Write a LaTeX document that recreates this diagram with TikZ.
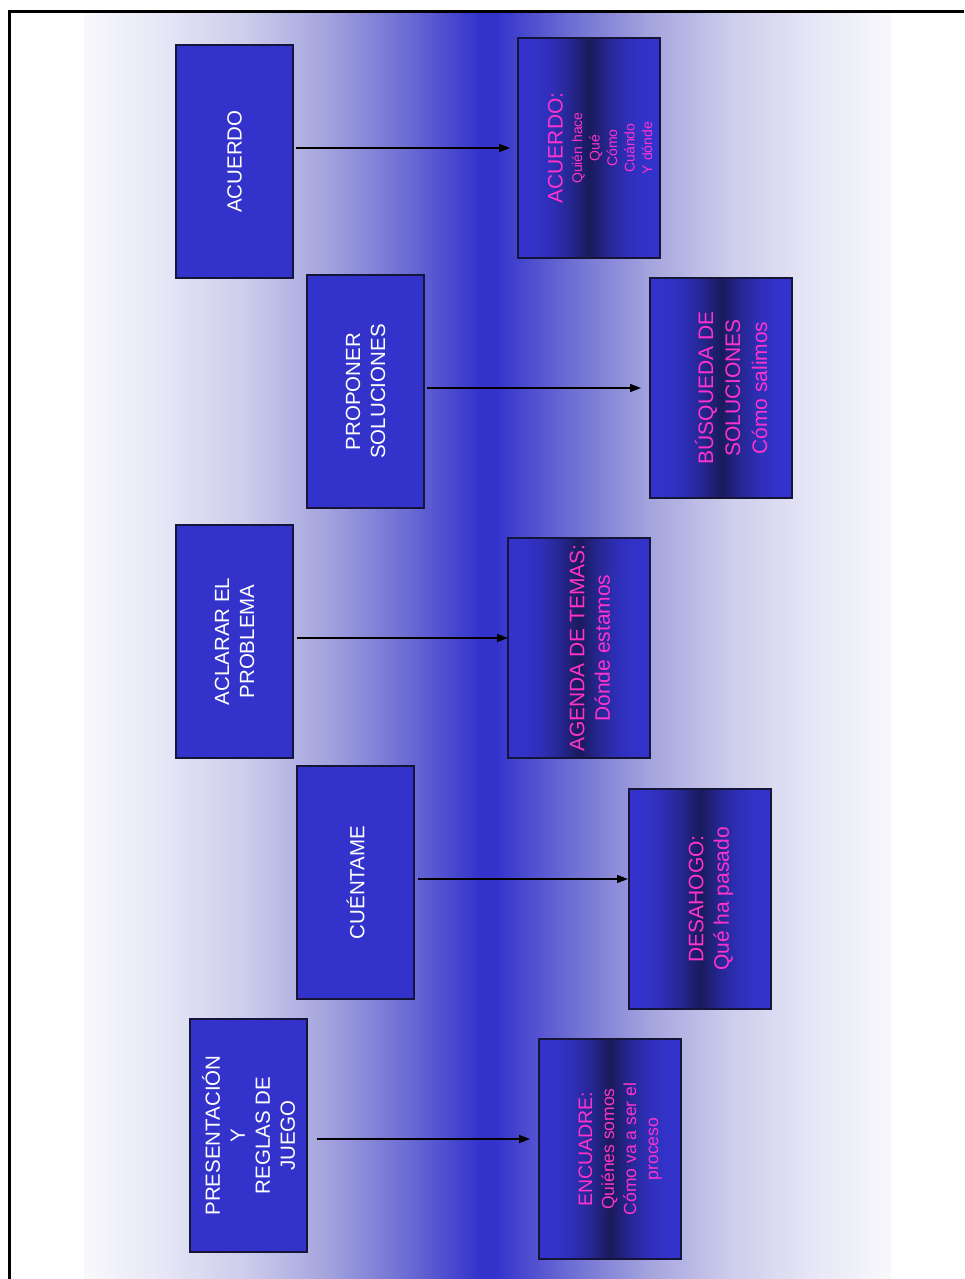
\documentclass[tikz,border=0pt]{standalone}
\usepackage{fontspec}
\setmainfont{Liberation Sans}
\usetikzlibrary{arrows.meta}
\definecolor{boxblue}{HTML}{3333CC}
\definecolor{darkmid}{HTML}{1A1A5C}
\definecolor{pinktxt}{HTML}{FF33CC}
\definecolor{edgecol}{HTML}{15153A}
\definecolor{bgA}{HTML}{F8F8FC}
\definecolor{bgB}{HTML}{E6E6F6}
\definecolor{bgC}{HTML}{CCCCEC}
\definecolor{bgD}{HTML}{A4A4DE}
\definecolor{bgE}{HTML}{6C6CD4}
\colorlet{pkA}{boxblue!85!darkmid}
\colorlet{pkB}{boxblue!50!darkmid}
\pgfdeclarehorizontalshading{bgshade}{100bp}{color(0bp)=(bgA); color(25bp)=(bgA); color(30bp)=(bgB); color(35bp)=(bgC); color(40bp)=(bgD); color(45bp)=(bgE); color(49.5bp)=(boxblue); color(50.5bp)=(boxblue); color(55bp)=(bgE); color(60bp)=(bgD); color(65bp)=(bgC); color(70bp)=(bgB); color(75bp)=(bgA); color(100bp)=(bgA)}
\pgfdeclarehorizontalshading{pinkshade}{100bp}{color(0bp)=(boxblue); color(25bp)=(boxblue); color(29bp)=(boxblue); color(36bp)=(pkA); color(43bp)=(pkB); color(50bp)=(darkmid); color(57bp)=(pkB); color(64bp)=(pkA); color(71bp)=(boxblue); color(75bp)=(boxblue); color(100bp)=(boxblue)}
\tikzset{
  bluebox/.style={draw=edgecol, line width=1.4pt, fill=boxblue, anchor=north west, inner sep=0pt, outer sep=0pt, minimum width=117pt, minimum height=233pt},
  pinkbox/.style={draw=edgecol, line width=1.4pt, shading=pinkshade, anchor=north west, inner sep=0pt, outer sep=0pt, minimum width=142pt, minimum height=220pt},
  btext/.style={rotate=90, text=white, align=center, inner sep=0pt, font=\fontsize{20.5}{25}\selectfont},
  ptext/.style={rotate=90, text=pinktxt, align=center, inner sep=0pt, font=\fontsize{21}{25.5}\selectfont},
  arr/.style={line width=1.3pt, -{Triangle[length=11pt,width=8pt]}}
}
\begin{document}
\begin{tikzpicture}[x=1pt, y=-1pt]
\useasboundingbox (0,0) rectangle (964,1279);
\fill[white] (0,0) rectangle (964,1279);
\shade[shading=bgshade] (84,13) rectangle (891,1279);
\draw[line width=3pt] (9.5,1279) -- (9.5,11.5) -- (964,11.5);

% blue boxes
\node[bluebox] (b1) at (176,45) {};
\node[bluebox] (b2) at (307,275) {};
\node[bluebox] (b3) at (176,525) {};
\node[bluebox] (b4) at (297,766) {};
\node[bluebox] (b5) at (190,1019) {};
\node[btext] (tb1) at (b1.center) {ACUERDO};
\node[btext] (tb2) at (b2.center) {PROPONER\\SOLUCIONES};
\node[btext] (tb3) at (b3.center) {ACLARAR EL\\PROBLEMA};
\node[btext] (tb4) at (b4.center) {CUÉNTAME};
\node[btext] (tb5) at (b5.center) {PRESENTACIÓN\\Y\\REGLAS DE\\JUEGO};

% gradient boxes
\node[pinkbox] (p1) at (518,38) {};
\node[pinkbox] (p2) at (650,278) {};
\node[pinkbox] (p3) at (508,538) {};
\node[pinkbox] (p4) at (629,789) {};
\node[pinkbox] (p5) at (539,1039) {};
\node[ptext] (tp1) at ([xshift=11pt]p1.center) {ACUERDO:\\[-6pt]{\fontsize{14}{17.5}\selectfont Quién hace}\\[-8pt]{\fontsize{14}{17.5}\selectfont Qué}\\[-8pt]{\fontsize{14}{17.5}\selectfont Cómo}\\[-8pt]{\fontsize{14}{17.5}\selectfont Cuándo}\\[-8pt]{\fontsize{14}{17.5}\selectfont Y dónde}};
\node[ptext] (tp2) at ([xshift=10pt]p2.center) {BÚSQUEDA DE\\[1.5pt]SOLUCIONES\\[1.5pt]Cómo salimos};
\node[ptext] (tp3) at ([xshift=11pt]p3.center) {AGENDA DE TEMAS:\\Dónde estamos};
\node[ptext] (tp4) at ([xshift=11pt]p4.center) {DESAHOGO:\\Qué ha pasado};
\node[ptext, font=\fontsize{17.5}{22}\selectfont] (tp5) at ([xshift=10pt]p5.center) {{\fontsize{19.5}{22}\selectfont ENCUADRE:}\\Quiénes somos\\Cómo va a ser el\\proceso};

% arrows
\coordinate (y1) at (0,148);
\coordinate (y2) at (0,388);
\coordinate (y3) at (0,638);
\coordinate (y4) at (0,879);
\coordinate (y5) at (0,1139);
\draw[arr, shorten <=3pt, shorten >=8pt] (b1.east |- y1) -- (p1.west |- y1);
\draw[arr, shorten <=3pt, shorten >=9pt] (b2.east |- y2) -- (p2.west |- y2);
\draw[arr, shorten <=4pt, shorten >=0pt] (b3.east |- y3) -- (p3.west |- y3);
\draw[arr, shorten <=4pt, shorten >=1pt] (b4.east |- y4) -- (p4.west |- y4);
\draw[arr, shorten <=10pt, shorten >=9pt] (b5.east |- y5) -- (p5.west |- y5);
\end{tikzpicture}
\end{document}
